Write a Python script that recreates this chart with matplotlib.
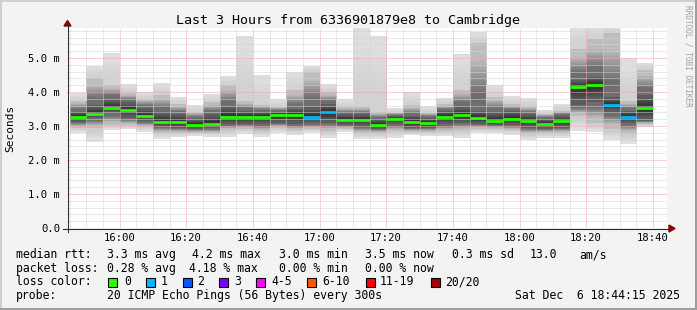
import matplotlib
matplotlib.use("Agg")
import matplotlib.pyplot as plt
from matplotlib.patches import Rectangle, Polygon
from matplotlib.lines import Line2D
from matplotlib.colors import to_rgb
import numpy as np

# ---------------- data ----------------
bar_end_times = ["15:50", "15:55", "16:00", "16:05", "16:10", "16:15", "16:20", "16:25",
                 "16:30", "16:35", "16:40", "16:45", "16:50", "16:55", "17:00", "17:05",
                 "17:10", "17:15", "17:20", "17:25", "17:30", "17:35", "17:40", "17:45",
                 "17:50", "17:55", "18:00", "18:05", "18:10", "18:15", "18:20", "18:25",
                 "18:30", "18:35", "18:40"]
# round-trip times in ms (sorted ping distribution summarised)
rtt_max = [3.96, 4.75, 5.12, 4.21, 3.98, 4.23, 3.83, 3.62, 3.91, 4.45, 5.63, 4.48, 3.76, 4.57,
           4.75, 4.23, 3.76, 5.85, 5.63, 3.50, 3.98, 3.57, 3.82, 5.09, 5.77, 4.21, 3.86, 3.79,
           3.45, 3.64, 5.95, 5.95, 5.95, 4.98, 4.84]
rtt_p19 = [3.74, 4.40, 4.20, 3.96, 3.80, 3.90, 3.64, 3.42, 3.70, 4.20, 3.72, 3.62, 3.55, 4.05,
           4.60, 4.00, 3.55, 3.55, 3.40, 3.38, 3.62, 3.38, 3.65, 4.05, 5.45, 3.86, 3.65, 3.58,
           3.35, 3.45, 5.25, 5.55, 5.72, 3.72, 4.65]
rtt_hi = [3.40, 3.62, 3.80, 3.70, 3.52, 3.40, 3.35, 3.20, 3.35, 3.55, 3.45, 3.40, 3.40, 3.50,
          3.55, 3.65, 3.35, 3.35, 3.20, 3.28, 3.30, 3.22, 3.45, 3.55, 3.45, 3.40, 3.45, 3.35,
          3.20, 3.30, 4.35, 4.45, 3.85, 3.45, 3.90]
rtt_median = [3.25, 3.36, 3.54, 3.48, 3.30, 3.12, 3.12, 3.04, 3.07, 3.25, 3.25, 3.25, 3.31, 3.31,
              3.27, 3.42, 3.18, 3.18, 3.04, 3.21, 3.12, 3.09, 3.25, 3.33, 3.22, 3.16, 3.21, 3.16,
              3.06, 3.16, 4.16, 4.21, 3.62, 3.27, 3.54]
rtt_lo = [3.13, 3.22, 3.37, 3.22, 3.15, 2.98, 2.95, 2.92, 2.93, 3.05, 3.07, 3.05, 3.10, 3.05,
          3.08, 3.10, 3.02, 3.00, 2.92, 3.05, 2.95, 2.95, 3.05, 3.10, 3.05, 3.02, 3.02, 2.95,
          2.92, 2.95, 3.62, 3.70, 3.40, 3.10, 3.15]
rtt_p2 = [2.93, 2.93, 3.03, 3.02, 2.98, 2.80, 2.80, 2.80, 2.80, 2.88, 2.92, 2.85, 2.95, 2.88,
          2.92, 2.85, 2.90, 2.80, 2.78, 2.85, 2.82, 2.82, 2.85, 2.88, 2.90, 2.90, 2.88, 2.75,
          2.78, 2.80, 3.30, 3.10, 2.90, 2.75, 3.05]
rtt_min = [2.78, 2.54, 2.88, 2.92, 2.83, 2.62, 2.69, 2.71, 2.68, 2.69, 2.76, 2.69, 2.79, 2.73,
           2.80, 2.65, 2.81, 2.63, 2.62, 2.65, 2.74, 2.71, 2.71, 2.66, 2.78, 2.79, 2.73, 2.58,
           2.65, 2.66, 2.85, 2.81, 2.59, 2.48, 2.98]
lost_pings = [0, 0, 0, 0, 0, 0, 0, 0, 0, 0, 0, 0, 0, 0, 1, 1, 0, 0, 0, 0, 0, 0, 0, 0, 0, 0, 0, 0,
              0, 0, 0, 0, 1, 1, 0]

x_tick_labels = ["16:00", "16:20", "16:40", "17:00", "17:20", "17:40", "18:00", "18:20", "18:40"]
y_tick_values = [0, 1, 2, 3, 4, 5]
y_tick_labels = ["0.0", "1.0 m", "2.0 m", "3.0 m", "4.0 m", "5.0 m"]

loss_labels = ["0", "1", "2", "3", "4-5", "6-10", "11-19", "20/20"]
loss_colors = ["#26ff00", "#00b8ff", "#0059ff", "#7e00ff", "#ff00ff", "#ff5500", "#ff0000", "#a00000"]

title = "Last 3 Hours from 6336901879e8 to Cambridge"
rtt_stats = ["3.3 ms avg", "4.2 ms max", "3.0 ms min", "3.5 ms now", "0.3 ms sd", "13.0", "am/s"]
loss_stats = ["0.28 % avg", "4.18 % max", "0.00 % min", "0.00 % now"]
probe_text = "20 ICMP Echo Pings (56 Bytes) every 300s"
date_text = "Sat Dec  6 18:44:15 2025"
window_start, window_end = "15:44:15", "18:44:15"

# ---------------- helpers ----------------
W, H = 697, 310
MONO = "DejaVu Sans Mono"


def fx(x):
    return x / W


def fy(y):
    return 1 - y / H


def to_min(s):
    parts = [float(p) for p in s.split(":")]
    return parts[0] * 60 + parts[1] + (parts[2] / 60 if len(parts) > 2 else 0)


def loss_color(n):
    if n <= 3:
        return loss_colors[n]
    if n <= 5:
        return loss_colors[4]
    if n <= 10:
        return loss_colors[5]
    if n <= 19:
        return loss_colors[6]
    return loss_colors[7]


fig = plt.figure(figsize=(W / 100, H / 100), dpi=100, facecolor="#f3f3f3")
ax = fig.add_axes([fx(67), fy(228), (667 - 67) / W, (228 - 28) / H])
ax.set_facecolor("white")

x0, x1 = to_min(window_start), to_min(window_end)
y_top = 5.88
ax.set_xlim(x0, x1)
ax.set_ylim(0, y_top)

ends = np.array([to_min(t) for t in bar_end_times])
starts = np.maximum(ends - 5, x0)

# smoke bands: (bottom, top, colour at bottom, colour at top)
bands = [
    (rtt_min, rtt_p2, "#e0e0e0", "#cdcdcd"),
    (rtt_p2, rtt_lo, "#bdbdbd", "#6e6e6e"),
    (rtt_lo, rtt_median, "#5c5c5c", "#363636"),
    (rtt_median, rtt_hi, "#363636", "#5c5c5c"),
    (rtt_hi, rtt_p19, "#6e6e6e", "#bdbdbd"),
    (rtt_p19, rtt_max, "#d2d2d2", "#dedede"),
]
for lo_arr, hi_arr, c_lo, c_hi in bands:
    grad = np.array([[to_rgb(c_hi)], [to_rgb(c_lo)]])
    for s, e, lo, hi in zip(starts, ends, lo_arr, hi_arr):
        hi_c = min(hi, y_top)
        if hi_c <= lo:
            continue
        ax.imshow(grad, extent=(s, e, lo, hi), aspect="auto", interpolation="bilinear",
                  zorder=1)
ax.set_xlim(x0, x1)
ax.set_ylim(0, y_top)

ax.hlines(rtt_median, starts, ends, colors=[loss_color(n) for n in lost_pings],
          linewidth=1.95, capstyle="butt", zorder=4)

# grid
major_x = [to_min(t) for t in x_tick_labels]
ax.set_xticks(major_x)
ax.set_xticklabels(x_tick_labels)
ax.set_xticks(np.arange(to_min("15:45"), x1, 5), minor=True)
ax.set_yticks(y_tick_values)
ax.set_yticklabels(y_tick_labels)
ax.set_yticks(np.arange(0, 5.9, 0.2), minor=True)
ax.set_axisbelow(False)
ax.grid(which="minor", color="#d4d4d4", linestyle=(0, (1, 1)), linewidth=0.72)
ax.grid(which="major", color="#f4a8a8", linestyle=(0, (1, 1)), linewidth=0.72)
for gl in ax.get_xgridlines() + ax.get_ygridlines():
    gl.set_zorder(3)

ax.tick_params(which="both", length=0)
ax.tick_params(axis="x", pad=3.5, labelsize=7.6)
ax.tick_params(axis="y", pad=5, labelsize=7.6)
for lab in ax.get_xticklabels() + ax.get_yticklabels():
    lab.set_family(MONO)
for s in ax.spines.values():
    s.set_visible(False)

# axes lines + arrows
fig.add_artist(Line2D([fx(63), fx(670)], [fy(228.5), fy(228.5)], color="#2c2c2c", lw=0.8))
fig.add_artist(Line2D([fx(67.5), fx(67.5)], [fy(232), fy(24)], color="#2c2c2c", lw=0.8))
fig.add_artist(Polygon([[fx(669), fy(225)], [fx(669), fy(232)], [fx(675), fy(228.5)]],
                       closed=True, color="#8b0000", transform=fig.transFigure))
fig.add_artist(Polygon([[fx(64), fy(26)], [fx(71), fy(26)], [fx(67.5), fy(20.5)]],
                       closed=True, color="#8b0000", transform=fig.transFigure))

# border shading
fig.add_artist(Rectangle((0, fy(2)), 1, 2 / H, color="#cfcfcf", transform=fig.transFigure, lw=0))
fig.add_artist(Rectangle((0, 0), 2 / W, 1, color="#cfcfcf", transform=fig.transFigure, lw=0))
fig.add_artist(Rectangle((0, 0), 1, 2 / H, color="#9e9e9e", transform=fig.transFigure, lw=0))
fig.add_artist(Rectangle((1 - 2 / W, 0), 2 / W, 1, color="#9e9e9e", transform=fig.transFigure, lw=0))

# title / labels
fig.text(fx(348), fy(24), title, family=MONO, fontsize=9.6, ha="center", va="baseline")
fig.text(fx(10.5), fy(128), "Seconds", family=MONO, fontsize=8.0, rotation=90,
         ha="center", va="center")
fig.text(fx(688), fy(5), "RRDTOOL / TOBI OETIKER", family=MONO, fontsize=5.6,
         rotation=270, ha="center", va="top", color="#a0a0a0")

LS = 8.3
b1, b2, b3, b4 = 258, 271.7, 285.4, 299
fig.text(fx(16), fy(b1), "median rtt:", family=MONO, fontsize=LS, va="baseline")
for s, x in zip(rtt_stats, [107, 192, 279, 365, 452, 530, 579]):
    fig.text(fx(x), fy(b1), s, family=MONO, fontsize=LS, va="baseline")
fig.text(fx(16), fy(b2), "packet loss:", family=MONO, fontsize=LS, va="baseline")
for s, x in zip(loss_stats, [107, 189, 279, 365]):
    fig.text(fx(x), fy(b2), s, family=MONO, fontsize=LS, va="baseline")
fig.text(fx(16), fy(b3), "loss color:", family=MONO, fontsize=LS, va="baseline")
box_x = [108, 146, 183, 219, 256, 307, 366, 431]
lab_x = [124, 161, 197, 234, 271, 322, 380, 445]
for lab, col, bx, lx in zip(loss_labels, loss_colors, box_x, lab_x):
    fig.add_artist(Rectangle((fx(bx), fy(286.7)), 9 / W, 9 / H, facecolor=col,
                             edgecolor="black", lw=0.8, transform=fig.transFigure))
    fig.text(fx(lx), fy(b3), lab, family=MONO, fontsize=LS, va="baseline")
fig.text(fx(16), fy(b4), "probe:", family=MONO, fontsize=LS, va="baseline")
fig.text(fx(107), fy(b4), probe_text, family=MONO, fontsize=LS, va="baseline")
fig.text(fx(680), fy(b4), date_text, family=MONO, fontsize=LS, va="baseline", ha="right")

fig.savefig("out.png", dpi=100, facecolor=fig.get_facecolor())
